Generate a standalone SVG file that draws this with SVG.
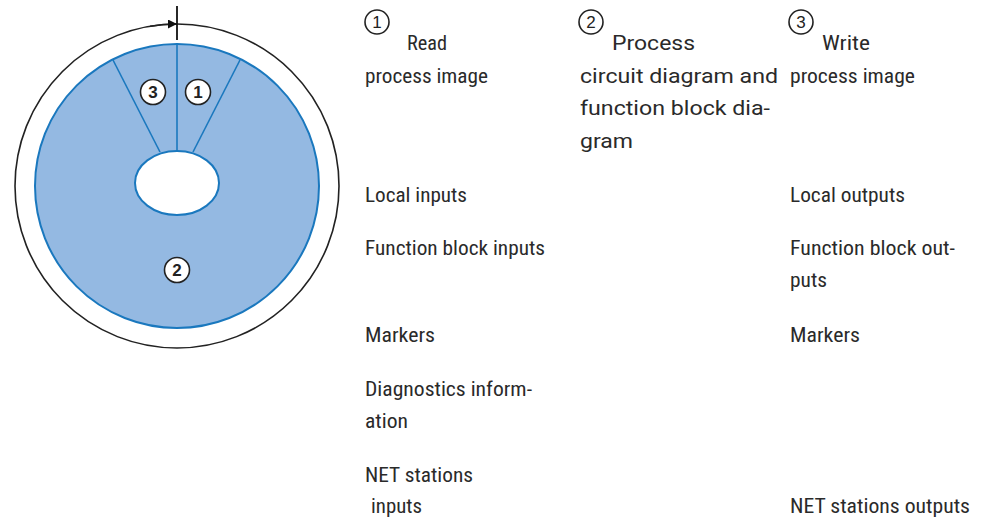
<svg xmlns="http://www.w3.org/2000/svg" width="981" height="521" viewBox="0 0 981 521">
<style>
.t{font-family:"Liberation Sans Narrow","Roboto Condensed","DejaVu Sans Condensed","Liberation Sans",sans-serif;font-size:21px;fill:#2a2a2a}
.w{font-family:"Roboto","Liberation Sans",sans-serif;font-size:21px;fill:#2a2a2a}
.num{font-family:"Liberation Sans Narrow","Liberation Sans",sans-serif;font-size:17px;font-weight:bold;fill:#222;text-anchor:middle}
.hn{font-family:"Liberation Sans Narrow","Liberation Sans",sans-serif;font-size:17px;fill:#222;text-anchor:middle}
.bc{fill:#fff;stroke:#222;stroke-width:1.6}
.hc{fill:#fff;stroke:#222;stroke-width:1.6}
.seg{stroke:#1a78be;stroke-width:1.6;fill:none}
</style>
<defs>
<marker id="ah" viewBox="0 0 10 10" refX="10" refY="5" markerWidth="17" markerHeight="9" markerUnits="userSpaceOnUse" orient="auto">
<path d="M0,0 L10,5 L0,10 z" fill="#111"/>
</marker>
</defs>
<g id="cycle">
<circle cx="177" cy="186" r="162" fill="none" stroke="#222" stroke-width="1.6"/>
<circle cx="177" cy="186" r="142" fill="#94b9e2" stroke="#1a78be" stroke-width="2"/>
<ellipse cx="177" cy="183" rx="42" ry="32" fill="#fff" stroke="#1a78be" stroke-width="2"/>
</g>
<g id="connectors">
<line class="seg" x1="177" y1="44" x2="177" y2="151"/>
<line class="seg" x1="240" y1="60" x2="193" y2="152"/>
<line class="seg" x1="113" y1="60" x2="160" y2="152"/>
<path d="M150,26.3 A162,162 0 0 1 177,24" fill="none" stroke="#222" stroke-width="1.6" marker-end="url(#ah)"/>
<line x1="177" y1="6" x2="177" y2="40" stroke="#111" stroke-width="1.8"/>
</g>
<g id="seg3"><circle class="bc" cx="153" cy="92" r="12.5"/><text class="num" x="153" y="98">3</text></g>
<g id="seg1"><circle class="bc" cx="198" cy="92" r="12.5"/><text class="num" x="198" y="98">1</text></g>
<g id="seg2"><circle class="bc" cx="177" cy="270" r="12.5"/><text class="num" x="177" y="276">2</text></g>
<g id="col1">
<circle class="hc" cx="377" cy="22" r="12"/><text class="hn" x="377" y="28">1</text>
<text class="t" x="407" y="50" textLength="40" lengthAdjust="spacingAndGlyphs">Read</text>
<text class="t" x="365" y="83" textLength="123" lengthAdjust="spacingAndGlyphs">process image</text>
<text class="t" x="365" y="202" textLength="102" lengthAdjust="spacingAndGlyphs">Local inputs</text>
<text class="t" x="365" y="255" textLength="180" lengthAdjust="spacingAndGlyphs">Function block inputs</text>
<text class="t" x="365" y="342" textLength="70" lengthAdjust="spacingAndGlyphs">Markers</text>
<text class="t" x="365" y="396" textLength="167" lengthAdjust="spacingAndGlyphs">Diagnostics inform-</text>
<text class="t" x="365" y="428" textLength="43" lengthAdjust="spacingAndGlyphs">ation</text>
<text class="t" x="365" y="482" textLength="108" lengthAdjust="spacingAndGlyphs">NET stations</text>
<text class="t" x="371" y="513" textLength="51" lengthAdjust="spacingAndGlyphs">inputs</text>
</g>
<g id="col2">
<circle class="hc" cx="591" cy="22" r="12"/><text class="hn" x="591" y="28">2</text>
<text class="w" x="612" y="50" textLength="83" lengthAdjust="spacingAndGlyphs">Process</text>
<text class="w" x="580" y="83" textLength="198" lengthAdjust="spacingAndGlyphs">circuit diagram and</text>
<text class="w" x="580" y="115" textLength="190" lengthAdjust="spacingAndGlyphs">function block dia-</text>
<text class="w" x="580" y="148" textLength="53" lengthAdjust="spacingAndGlyphs">gram</text>
</g>
<g id="col3">
<circle class="hc" cx="801" cy="22" r="12"/><text class="hn" x="801" y="28">3</text>
<text class="t" x="822" y="50" textLength="48" lengthAdjust="spacingAndGlyphs">Write</text>
<text class="t" x="790" y="83" textLength="125" lengthAdjust="spacingAndGlyphs">process image</text>
<text class="t" x="790" y="202" textLength="115" lengthAdjust="spacingAndGlyphs">Local outputs</text>
<text class="t" x="790" y="255" textLength="165" lengthAdjust="spacingAndGlyphs">Function block out-</text>
<text class="t" x="790" y="287" textLength="37" lengthAdjust="spacingAndGlyphs">puts</text>
<text class="t" x="790" y="342" textLength="70" lengthAdjust="spacingAndGlyphs">Markers</text>
<text class="t" x="790" y="513" textLength="180" lengthAdjust="spacingAndGlyphs">NET stations outputs</text>
</g>
</svg>
